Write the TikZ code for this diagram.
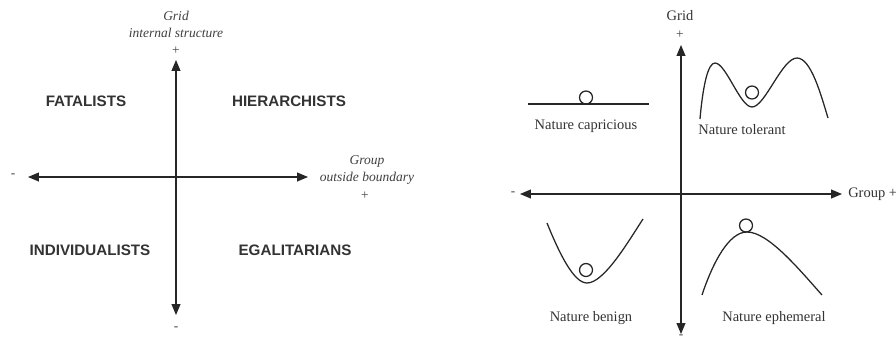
\documentclass[tikz,border=0pt]{standalone}
\usepackage{fontspec}
\setmainfont{Liberation Serif}
\newfontfamily\labelfont{Liberation Sans}
\usetikzlibrary{arrows.meta}

\tikzset{
    axis/.style={{Triangle[length=2.7mm,width=2.2mm]}-{Triangle[length=2.7mm,width=2.2mm]}, line width=0.8pt, black!85},
    culture/.style={font=\labelfont\bfseries\fontsize{10.8}{12}\selectfont, text=black!80},
    axlabel/.style={font=\itshape\fontsize{9.6}{12}\selectfont, text=black!75, inner sep=0pt},
    nature/.style={font=\fontsize{10.3}{12}\selectfont, text=black!80, inner sep=0pt},
    sign/.style={font=\fontsize{9.5}{10}\selectfont, text=black!75, inner sep=0pt},
    curve/.style={line width=0.9pt, black!85},
    ball/.style={line width=0.9pt, black!85}
}

\begin{document}
\begin{tikzpicture}[x=0.025cm,y=-0.025cm]
    \useasboundingbox (0,0) rectangle (896,343);

    % left: grid / group cultures
    \coordinate (gtop) at (176,60);
    \coordinate (gbot) at (176,315);
    \coordinate (gleft) at (28,177);
    \coordinate (gright) at (308,177);
    \draw[axis] (gbot) -- (gtop);
    \draw[axis] (gleft) -- (gright);
    \node[axlabel] (gridA) at (176,16) {Grid};
    \node[axlabel] (gridB) at (176,33) {internal structure};
    \node[sign] (gridplus) at (176,51) {+};
    \node[sign] (gridminus) at (176,329) {-};
    \node[axlabel] (groupA) at (367,161) {Group};
    \node[axlabel] (groupB) at (367,178) {outside boundary};
    \node[sign] (groupplus) at (365,196) {+};
    \node[sign] (groupminus) at (13,176) {-};
    \node[culture] (fat) at (86,101) {FATALISTS};
    \node[culture] (hie) at (289,101) {HIERARCHISTS};
    \node[culture] (ind) at (90,250) {INDIVIDUALISTS};
    \node[culture] (ega) at (295,250) {EGALITARIANS};

    % right: myths of nature
    \coordinate (ntop) at (681,45);
    \coordinate (nbot) at (681,334);
    \coordinate (nleft) at (520,194);
    \coordinate (nright) at (842,194);
    \draw[axis] (nbot) -- (ntop);
    \draw[axis] (nleft) -- (nright);
    \node[nature] (ngrid) at (680,16) {Grid};
    \node[sign] (ngridplus) at (680,35) {+};
    \node[sign] (ngroupminus) at (513,194) {-};
    \node[nature,anchor=west] (ngroup) at (848,194) {Group +};
    \node[sign,anchor=north] (ngridminus) at (681,335) {-};

    % capricious
    \draw[curve] (528,104) -- (649,104);
    \draw[ball] (586,97.5) circle (6.5);
    \node[nature] (cap) at (586,126) {Nature capricious};
    % tolerant
    \draw[curve] (700,119) .. controls (703,85) and (708,63) .. (715,63)
        .. controls (726,63) and (740,107) .. (752,107)
        .. controls (765,107) and (782,58) .. (797,58)
        .. controls (811,58) and (821,95) .. (828,118);
    \draw[ball] (752,92.5) circle (6.5);
    \node[nature] (tol) at (742,130) {Nature tolerant};
    % benign
    \draw[curve] (547,223) .. controls (560,255) and (574,283) .. (587,283)
        .. controls (604,283) and (628,242) .. (643,219);
    \draw[ball] (586,270) circle (6.5);
    \node[nature] (ben) at (591,318) {Nature benign};
    % ephemeral
    \draw[curve] (702,295) .. controls (713,262) and (729,232) .. (747,232)
        .. controls (768,232) and (798,268) .. (822,295);
    \draw[ball] (746,225.5) circle (6.5);
    \node[nature] (eph) at (774,318) {Nature ephemeral};
\end{tikzpicture}
\end{document}
